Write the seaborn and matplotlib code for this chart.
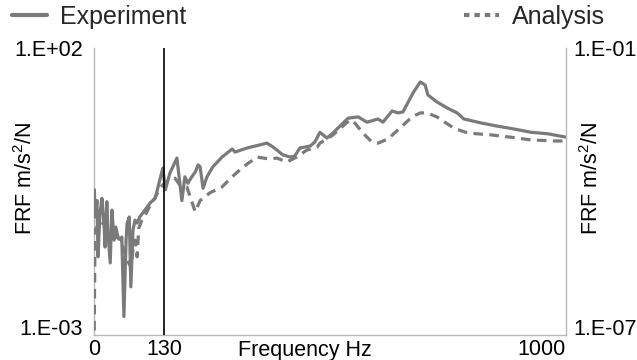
import numpy as np
import pandas as pd
import matplotlib
matplotlib.use("Agg")
import matplotlib.pyplot as plt
import seaborn as sns

# ---- data ----
freq_exp = [0.5, 1.4, 4.4, 6, 9.3, 12.6, 16, 18, 21, 23, 27, 30, 34, 37, 41, 47, 48, 52, 56, 58,
            62, 65, 69, 73, 77, 82, 92, 102, 112, 121, 127, 132, 141, 155, 165, 171, 177, 185,
            192, 198, 202, 208, 216, 228, 247, 268, 274, 299, 341, 354, 375, 390, 400, 411,
            433, 443, 454, 469, 482, 515, 537, 556, 580, 591, 611, 624, 635, 657, 673, 684,
            690, 710, 733, 755, 770, 811, 842, 881, 921, 959, 1000]
frf_exp = [0.34, 0.114, 0.22, 0.023, 0.133, 0.24, 0.089, 0.034, 0.21, 0.060, 0.018, 0.15, 0.045,
           0.076, 0.051, 0.045, 0.051, 0.0021, 0.045, 0.089, 0.114, 0.0069, 0.067, 0.10, 0.089,
           0.114, 0.15, 0.20, 0.24, 0.50, 0.81, 0.34, 0.66, 1.21, 0.22, 0.57, 0.44, 0.57, 0.69,
           0.92, 0.85, 0.36, 0.57, 0.85, 1.26, 1.74, 1.54, 1.81, 2.2, 1.88, 1.37, 1.26, 1.31,
           1.81, 1.96, 2.3, 3.4, 2.7, 3.3, 6.0, 6.3, 5.1, 5.8, 5.1, 8.0, 7.4, 7.7, 16.4, 25.6,
           22.6, 15.2, 11.5, 9.0, 7.4, 5.8, 4.9, 4.4, 3.9, 3.4, 3.2, 2.8]

freq_ana = [0.3, 1.4, 9.3, 18, 27, 35, 45, 52, 60, 65, 69, 73, 77, 80, 86, 92, 102, 112, 121,
            132, 151, 161, 175, 192, 202, 222, 247, 268, 291, 320, 347, 362, 383, 404, 426,
            448, 454, 482, 519, 530, 547, 567, 580, 602, 628, 655, 673, 688, 710, 748, 779,
            833, 874, 921, 975, 1000]
frf_ana = [0.0012, 0.067, 0.094, 0.083, 0.062, 0.055, 0.045, 0.030, 0.019, 0.015, 0.030, 0.045,
           0.023, 0.072, 0.10, 0.12, 0.18, 0.25, 0.36, 0.46, 0.54, 0.41, 0.38, 0.14, 0.22, 0.30,
           0.38, 0.57, 0.85, 1.26, 1.16, 1.21, 1.03, 1.26, 1.67, 1.88, 2.2, 3.05, 5.6, 4.9, 3.3,
           2.3, 2.2, 2.6, 4.0, 6.3, 7.4, 7.4, 6.3, 4.0, 3.3, 3.05, 2.8, 2.5, 2.4, 2.4]

series_names = ["Experiment", "Analysis"]
x_ticks = [0, 130, 1000]
x_ticklabels = ["0", "130", "1000"]
marker_freq = 130
left_ticks = [1e-3, 1e2]
left_ticklabels = ["1.E-03", "1.E+02"]
right_ticks = [1e-7, 1e-1]
right_ticklabels = ["1.E-07", "1.E-01"]

df = pd.concat([
    pd.DataFrame({"freq": freq_exp, "frf": frf_exp, "series": series_names[0]}),
    pd.DataFrame({"freq": freq_ana, "frf": frf_ana, "series": series_names[1]}),
])

sns.set_theme(style="white")
plt.rcParams["font.family"] = ["Liberation Sans", "DejaVu Sans"]
plt.rcParams["mathtext.default"] = "regular"

FS = 15.5
GRAY = "#7a7a7a"
SPINE = "#b8b8b8"

fig = plt.figure(figsize=(6.37, 3.6), dpi=100)
ax = fig.add_axes([94 / 637, 25 / 360, 472 / 637, 287 / 360])

sns.lineplot(data=df, x="freq", y="frf", hue="series", style="series",
             palette=[GRAY, GRAY], dashes={"Experiment": "", "Analysis": (3, 2)},
             linewidth=2.3, sort=False, estimator=None, ax=ax, legend=True)
for ln in ax.get_lines():
    ln.set_solid_capstyle("round")
ax.get_lines()[0].set_zorder(4)
ax.get_lines()[1].set_zorder(3)

ax.axvline(marker_freq, color="black", linewidth=1.2, zorder=5)

ax.set_xscale("function", functions=(lambda x: np.sign(x) * np.abs(x) ** 0.933,
                                     lambda x: np.sign(x) * np.abs(x) ** (1 / 0.933)))
ax.set_yscale("log")
ax.set_xlim(0, 1000)
ax.set_ylim(1e-3, 1e2)
ax.set_xticks(x_ticks)
ax.set_xticklabels(x_ticklabels, fontsize=FS)
ax.get_xticklabels()[-1].set_ha("right")
ax.set_yticks(left_ticks)
ax.set_yticklabels(left_ticklabels, fontsize=FS)
ax.get_yticklabels()[0].set_va("baseline")
ax.minorticks_off()
ax.tick_params(axis="both", length=0, colors="black")
ax.tick_params(axis="x", pad=3)
ax.tick_params(axis="y", pad=8)

ax.set_xlabel("Frequency Hz", fontsize=FS, color="black")
ax.xaxis.set_label_coords((305 - 94) / 472, -0.017)
ax.set_ylabel("FRF m/s$^{2}$/N", fontsize=FS, color="black")
ax.yaxis.set_label_coords((37 - 94) / 472, (335 - 178) / 287)

for s in ["top", "right"]:
    ax.spines[s].set_visible(False)
for s in ["left", "bottom"]:
    ax.spines[s].set_color(SPINE)
    ax.spines[s].set_linewidth(1.0)

ax2 = ax.twinx()
ax2.set_yscale("log")
ax2.set_ylim(1e-7, 1e-1)
ax2.set_yticks(right_ticks)
ax2.set_yticklabels(right_ticklabels, fontsize=FS)
ax2.get_yticklabels()[0].set_va("baseline")
ax2.minorticks_off()
ax2.tick_params(axis="y", length=0, pad=5, colors="black")
ax2.set_ylabel("FRF m/s$^{2}$/N", fontsize=FS, color="black")
ax2.yaxis.set_label_coords((580 - 94) / 472, (335 - 178) / 287)
for s in ["top", "left", "bottom"]:
    ax2.spines[s].set_visible(False)
ax2.spines["right"].set_color(SPINE)
ax2.spines["right"].set_linewidth(1.0)

handles, labels = ax.get_legend_handles_labels()
ax.get_legend().remove()
leg = fig.legend(handles, labels, loc="center", ncol=2, mode="expand",
                 bbox_to_anchor=(12 / 637, 1 - 17 / 360, (605 - 12) / 637, 0),
                 frameon=False, fontsize=18, handlelength=1.4, handletextpad=0.52,
                 borderpad=0, borderaxespad=0)
for i, ln in enumerate(leg.get_lines()):
    ln.set_linewidth(3.0)
    if i == 1:
        ln.set_dashes([1.3, 1.2])
        ln.set_dash_capstyle("butt")

fig.savefig("out.png", dpi=100)
